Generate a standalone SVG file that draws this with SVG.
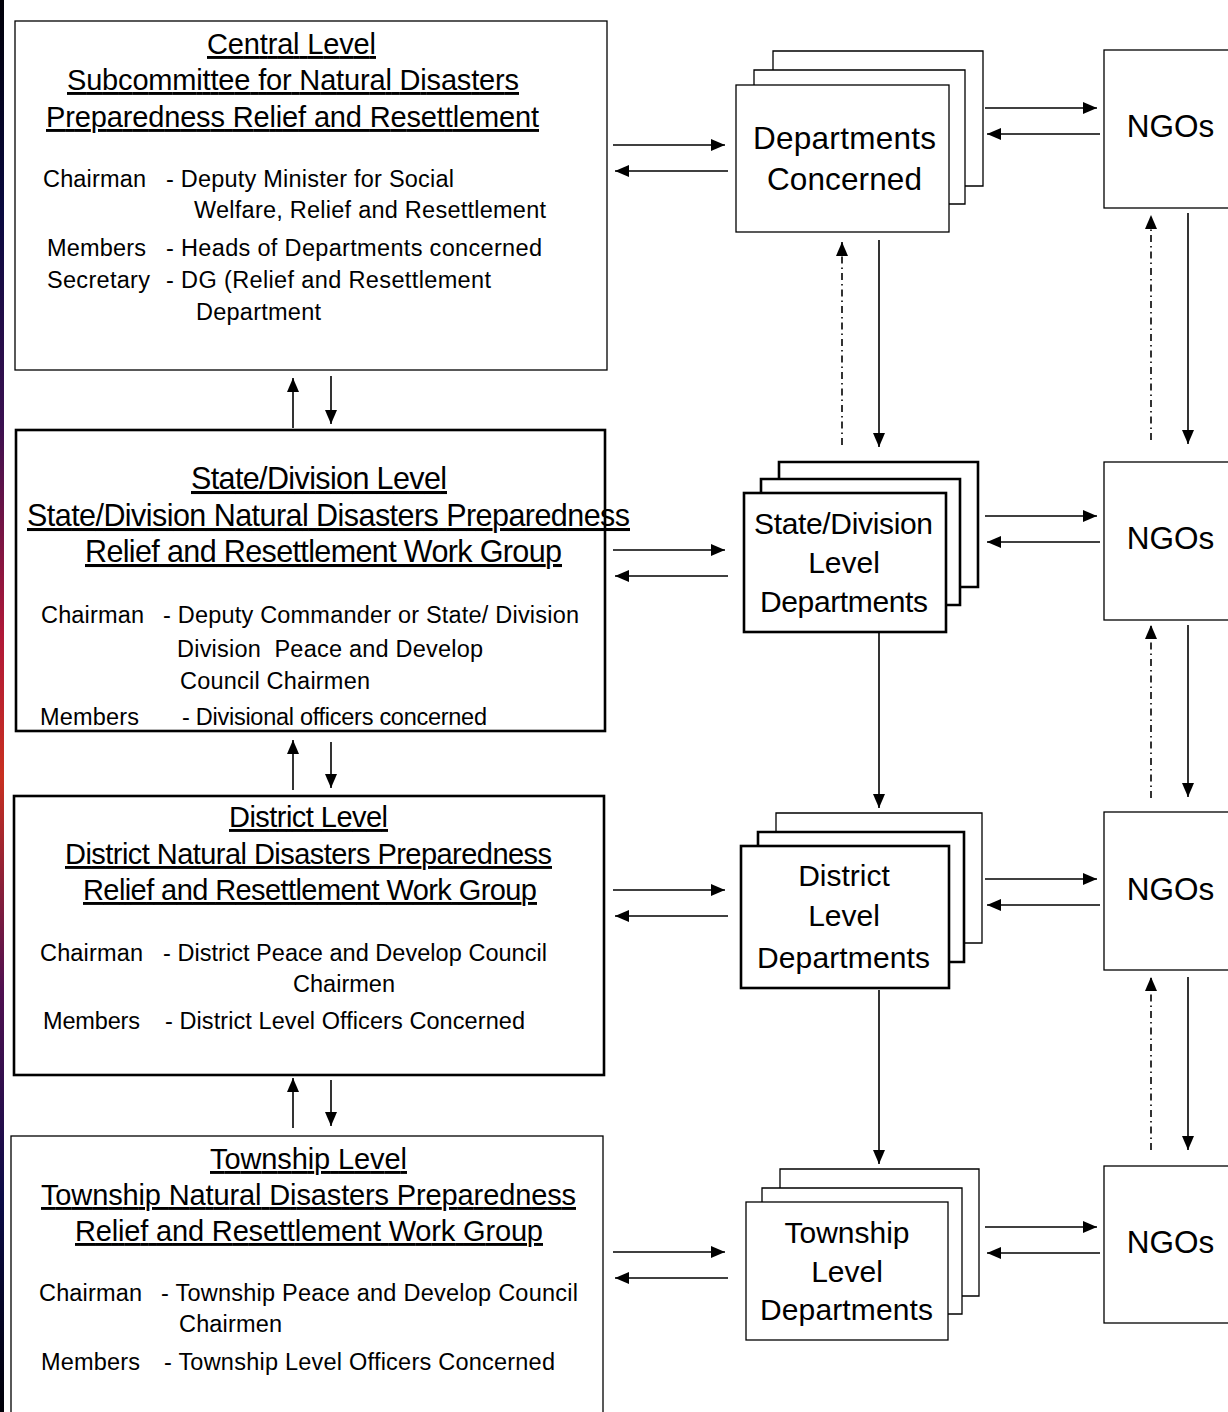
<svg xmlns="http://www.w3.org/2000/svg" width="1228" height="1412" viewBox="0 0 1228 1412">
<defs>
<linearGradient id="bar" x1="0" y1="0" x2="0" y2="1">
<stop offset="0" stop-color="#000008"/>
<stop offset="0.15" stop-color="#0a0a40"/>
<stop offset="0.3" stop-color="#3a1050"/>
<stop offset="0.45" stop-color="#b01838"/>
<stop offset="0.55" stop-color="#c83020"/>
<stop offset="0.7" stop-color="#501050"/>
<stop offset="0.85" stop-color="#0c0c48"/>
<stop offset="1" stop-color="#000008"/>
</linearGradient>
<marker id="ah" markerUnits="userSpaceOnUse" markerWidth="14" markerHeight="12" refX="14" refY="6" orient="auto">
<path d="M0,0 L14,6 L0,12 z" fill="#000"/>
</marker>
</defs>
<style>
text{font-family:"Liberation Sans",Arial,sans-serif;fill:#000}
.h{font-size:29px;text-anchor:middle;text-decoration:underline}
.hs{font-size:30.5px;text-anchor:middle;text-decoration:underline}
.d{font-size:23.5px}
.big{font-size:31.5px;text-anchor:middle}
.mid{font-size:30px;text-anchor:middle}
.box{fill:#fff;stroke:#000;stroke-width:1.3}
.tbox{fill:#fff;stroke:#000;stroke-width:2.6}
.pl{fill:none;stroke:#000;stroke-width:1.3}
.tpl{fill:none;stroke:#000;stroke-width:2.6}
.c{stroke:#000;stroke-width:1.6;fill:none;marker-end:url(#ah)}
.dd{stroke:#000;stroke-width:1.6;fill:none;stroke-dasharray:7 4 1.5 4;marker-end:url(#ah)}
</style>
<rect x="0" y="0" width="1228" height="1412" fill="#fff"/>
<rect x="0" y="0" width="4" height="1412" fill="url(#bar)"/>

<g id="central">
<rect class="box" x="15" y="21" width="592" height="349"/>
<text class="h" x="291.5" y="54" textLength="169">Central Level</text>
<text class="h" x="293" y="90" textLength="452">Subcommittee for Natural Disasters</text>
<text class="h" x="292.5" y="127" textLength="493">Preparedness Relief and Resettlement</text>
<text class="d" x="43" y="187" textLength="103">Chairman</text>
<text class="d" x="166" y="187" textLength="288">- Deputy Minister for Social</text>
<text class="d" x="194" y="218" textLength="352">Welfare, Relief and Resettlement</text>
<text class="d" x="47" y="256" textLength="99">Members</text>
<text class="d" x="166" y="256" textLength="376">- Heads of Departments concerned</text>
<text class="d" x="47" y="288" textLength="103">Secretary</text>
<text class="d" x="166" y="288" textLength="325">- DG (Relief and Resettlement</text>
<text class="d" x="196" y="320" textLength="125">Department</text>
</g>

<g id="state">
<rect class="tbox" x="16" y="430" width="589" height="301"/>
<text class="hs" x="319" y="489" textLength="256">State/Division Level</text>
<text class="hs" x="328.5" y="526" textLength="603">State/Division Natural Disasters Preparedness</text>
<text class="hs" x="323.5" y="562" textLength="477">Relief and Resettlement Work Group</text>
<text class="d" x="41" y="623" textLength="103">Chairman</text>
<text class="d" x="163" y="623" textLength="416">- Deputy Commander or State/ Division</text>
<text class="d" x="177" y="657" textLength="306" xml:space="preserve">Division  Peace and Develop</text>
<text class="d" x="180" y="689" textLength="190">Council Chairmen</text>
<text class="d" x="40" y="725" textLength="99">Members</text>
<text class="d" x="182" y="725" textLength="305">- Divisional officers concerned</text>
</g>

<g id="district">
<rect class="tbox" x="14" y="796" width="590" height="279"/>
<text class="h" x="308.5" y="827" textLength="159">District Level</text>
<text class="h" x="308.5" y="864" textLength="487">District Natural Disasters Preparedness</text>
<text class="h" x="310" y="900" textLength="454">Relief and Resettlement Work Group</text>
<text class="d" x="40" y="961" textLength="103">Chairman</text>
<text class="d" x="163" y="961" textLength="384">- District Peace and Develop Council</text>
<text class="d" x="293" y="992" textLength="102">Chairmen</text>
<text class="d" x="43" y="1029" textLength="97">Members</text>
<text class="d" x="165" y="1029" textLength="360">- District Level Officers Concerned</text>
</g>

<g id="township">
<rect class="box" x="11" y="1136" width="592" height="290"/>
<text class="h" x="308.5" y="1169" textLength="197">Township Level</text>
<text class="h" x="308.5" y="1205" textLength="535">Township Natural Disasters Preparedness</text>
<text class="h" x="309" y="1241" textLength="468">Relief and Resettlement Work Group</text>
<text class="d" x="39" y="1301" textLength="103">Chairman</text>
<text class="d" x="161" y="1301" textLength="417">- Township Peace and Develop Council</text>
<text class="d" x="179" y="1332" textLength="103">Chairmen</text>
<text class="d" x="41" y="1370" textLength="99">Members</text>
<text class="d" x="164" y="1370" textLength="391">- Township Level Officers Concerned</text>
</g>

<g id="dept-central">
<polyline class="pl" points="773,70 773,51 983,51 983,186 965,186"/>
<polyline class="pl" points="754,85 754,70 965,70 965,204 949,204"/>
<rect class="box" x="736" y="85" width="213" height="147"/>
<text class="big" x="844.5" y="149" textLength="183">Departments</text>
<text class="big" x="844.5" y="190" textLength="155">Concerned</text>
</g>

<g id="dept-state">
<polyline class="tpl" points="779,479 779,462 978,462 978,587 960,587"/>
<polyline class="tpl" points="761,493 761,479 960,479 960,605 946,605"/>
<rect class="tbox" x="744" y="493" width="202" height="139"/>
<text class="mid" x="843.5" y="534" textLength="179">State/Division</text>
<text class="mid" x="844" y="573">Level</text>
<text class="mid" x="844" y="612" textLength="168">Departments</text>
</g>

<g id="dept-district">
<polyline class="pl" points="776,832 776,813 982,813 982,943 964,943"/>
<polyline class="tpl" points="758,846 758,832 964,832 964,962 949,962"/>
<rect class="tbox" x="741" y="846" width="208" height="142"/>
<text class="mid" x="844" y="886">District</text>
<text class="mid" x="844" y="926">Level</text>
<text class="mid" x="843.5" y="968" textLength="173">Departments</text>
</g>

<g id="dept-township">
<polyline class="pl" points="780,1188 780,1169 979,1169 979,1296 962,1296"/>
<polyline class="pl" points="762,1202 762,1188 962,1188 962,1314 948,1314"/>
<rect class="box" x="746" y="1202" width="202" height="138"/>
<text class="mid" x="847" y="1243">Township</text>
<text class="mid" x="847" y="1282">Level</text>
<text class="mid" x="846.5" y="1320" textLength="173">Departments</text>
</g>

<g id="ngo1">
<rect class="box" x="1104" y="50" width="130" height="158"/>
<text class="big" x="1170.5" y="137">NGOs</text>
</g>
<g id="ngo2">
<rect class="box" x="1104" y="462" width="130" height="158"/>
<text class="big" x="1170.5" y="549">NGOs</text>
</g>
<g id="ngo3">
<rect class="box" x="1104" y="812" width="130" height="158"/>
<text class="big" x="1170.5" y="900">NGOs</text>
</g>
<g id="ngo4">
<rect class="box" x="1104" y="1166" width="130" height="157"/>
<text class="big" x="1170.5" y="1253">NGOs</text>
</g>

<g id="connectors">
<line class="c" x1="293" y1="428" x2="293" y2="378"/>
<line class="c" x1="331" y1="376" x2="331" y2="424"/>
<line class="c" x1="293" y1="790" x2="293" y2="740"/>
<line class="c" x1="331" y1="742" x2="331" y2="788"/>
<line class="c" x1="293" y1="1128" x2="293" y2="1078"/>
<line class="c" x1="331" y1="1080" x2="331" y2="1126"/>

<line class="c" x1="613" y1="145" x2="725" y2="145"/>
<line class="c" x1="728" y1="171" x2="615" y2="171"/>
<line class="c" x1="613" y1="550" x2="725" y2="550"/>
<line class="c" x1="728" y1="576" x2="615" y2="576"/>
<line class="c" x1="613" y1="890" x2="725" y2="890"/>
<line class="c" x1="728" y1="916" x2="615" y2="916"/>
<line class="c" x1="613" y1="1252" x2="725" y2="1252"/>
<line class="c" x1="728" y1="1278" x2="615" y2="1278"/>

<line class="c" x1="985" y1="108" x2="1097" y2="108"/>
<line class="c" x1="1100" y1="134" x2="987" y2="134"/>
<line class="c" x1="985" y1="516" x2="1097" y2="516"/>
<line class="c" x1="1100" y1="542" x2="987" y2="542"/>
<line class="c" x1="985" y1="879" x2="1097" y2="879"/>
<line class="c" x1="1100" y1="905" x2="987" y2="905"/>
<line class="c" x1="985" y1="1227" x2="1097" y2="1227"/>
<line class="c" x1="1100" y1="1253" x2="987" y2="1253"/>

<line class="dd" x1="842" y1="445" x2="842" y2="242"/>
<line class="c" x1="879" y1="240" x2="879" y2="447"/>
<line class="c" x1="879" y1="632" x2="879" y2="808"/>
<line class="c" x1="879" y1="990" x2="879" y2="1164"/>

<line class="dd" x1="1151" y1="440" x2="1151" y2="215"/>
<line class="c" x1="1188" y1="213" x2="1188" y2="444"/>
<line class="dd" x1="1151" y1="798" x2="1151" y2="625"/>
<line class="c" x1="1188" y1="625" x2="1188" y2="797"/>
<line class="dd" x1="1151" y1="1150" x2="1151" y2="977"/>
<line class="c" x1="1188" y1="977" x2="1188" y2="1150"/>
</g>
</svg>
